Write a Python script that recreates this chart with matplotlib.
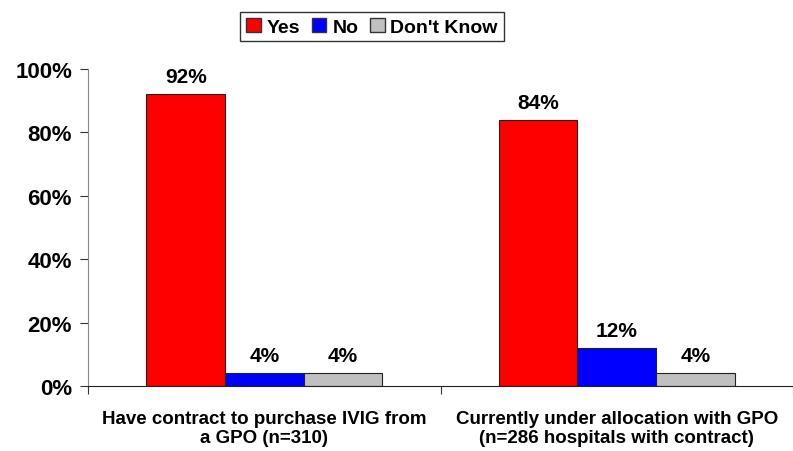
import matplotlib.pyplot as plt
import numpy as np
from matplotlib.patches import Patch

plt.rcParams["font.family"] = ["Liberation Sans", "DejaVu Sans"]
plt.rcParams["font.weight"] = "bold"

categories = [
    "Have contract to purchase IVIG from\na GPO (n=310)",
    "Currently under allocation with GPO\n(n=286 hospitals with contract)",
]
series = ["Yes", "No", "Don't Know"]
yes = [0.92, 0.84]
no = [0.04, 0.12]
dont_know = [0.04, 0.04]
colors = ["#ff0000", "#0000ff", "#c0c0c0"]

fig = plt.figure(figsize=(7.93, 4.52), dpi=100)
ax = fig.add_axes([88 / 793, 65 / 452, 705 / 793, 317 / 452])

x = np.arange(len(categories))
w = 0.223
for i, (vals, c) in enumerate(zip([yes, no, dont_know], colors)):
    pos = x + (i - 1) * w
    ax.bar(pos, vals, width=w, color=c, edgecolor="#222222", linewidth=0.8)
    for p, v in zip(pos, vals):
        ax.text(p, v + 0.038, f"{v:.0%}", ha="center", va="baseline",
                fontsize=15, fontweight="bold")

ax.set_xlim(-0.5, 1.48)
ax.set_ylim(0, 1.0)
ax.set_yticks(np.arange(0, 1.01, 0.2))
ax.set_yticklabels([f"{v:.0%}" for v in np.arange(0, 1.01, 0.2)],
                   fontsize=16, fontweight="bold")
ax.set_xticks([-0.5, 0.5, 1.5])
ax.set_xticklabels([])
ax.set_xticks(x, minor=True)
ax.set_xticklabels(categories, minor=True, fontsize=13.5, fontweight="bold")
ax.tick_params(axis="x", which="minor", length=0, pad=17)
ax.tick_params(axis="x", which="major", length=6, direction="out", color="#333333")
ax.tick_params(axis="y", length=6, direction="out", color="#333333", pad=5.5)
ax.spines["top"].set_visible(False)
ax.spines["right"].set_visible(False)
ax.spines["left"].set_color("#888888")
ax.spines["bottom"].set_color("#222222")

handles = [Patch(facecolor=c, edgecolor="#333333", label=s) for s, c in zip(series, colors)]
fig.legend(handles=handles, loc="upper center", bbox_to_anchor=(372 / 793, 0.993),
           ncol=3, frameon=True, fancybox=False, edgecolor="black",
           handlelength=0.75, handleheight=0.75, handletextpad=0.3, columnspacing=0.6,
           borderpad=0.3, prop={"weight": "bold", "size": 14})

fig.savefig("out.png", dpi=100)
